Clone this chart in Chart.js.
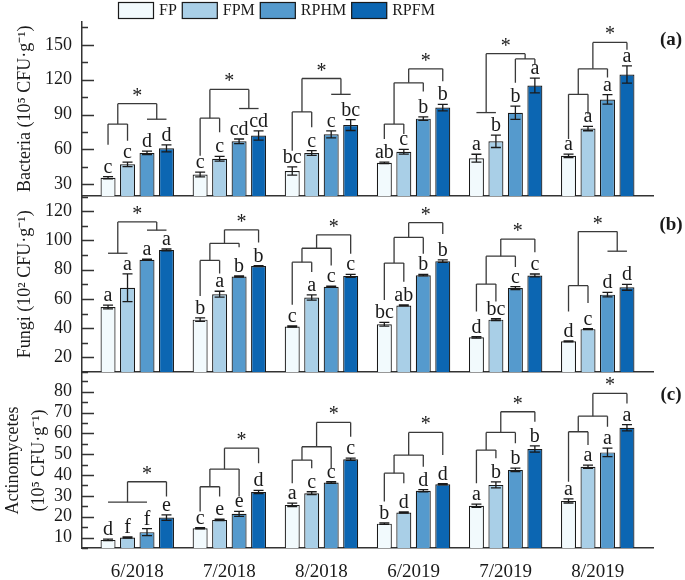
<!DOCTYPE html>
<html>
<head>
<meta charset="utf-8">
<script src="https://cdn.jsdelivr.net/npm/chart.js@4.4.1/dist/chart.umd.min.js"></script>
<style>
  html, body { margin: 0; padding: 0; background: #fff; }
  #wrap { position: relative; width: 685px; height: 580px; overflow: hidden; }
  .panel { position: absolute; left: 0; width: 685px; }
</style>
</head>
<body>
<div id="wrap">
  <div class="panel" style="top:0;height:205px"><canvas id="bacteria-chart"></canvas></div>
  <div class="panel" style="top:186px;height:195px"><canvas id="fungi-chart"></canvas></div>
  <div class="panel" style="top:362px;height:218px"><canvas id="actino-chart"></canvas></div>
</div>
<script>
const SERIF = "'Liberation Serif', 'Times New Roman', serif";

const groups = ['6/2018', '7/2018', '8/2018', '6/2019', '7/2019', '8/2019'];
const treatments = ['FP', 'FPM', 'RPHM', 'RPFM'];

// rows = treatments, columns = sampling dates
const bacteria = [
  [35.7, 38.5, 41.5, 48.5, 52.5, 54.5],
  [47.2, 52, 57, 58, 67, 78],
  [57, 67, 73, 86.5, 91.5, 103],
  [61, 72, 81, 96, 115, 124.5]
];
const bacteriaErr = [
  [1, 2, 3.5, 0.7, 3.4, 1.5],
  [2, 2, 2, 2, 5.3, 1.9],
  [1.5, 2, 3, 1.5, 5.7, 4.1],
  [3, 4, 4.7, 2.8, 6.4, 7.4]
];
const bacteriaSig = [
  ['c', 'c', 'bc', 'ab', 'a', 'a'],
  ['c', 'c', 'c', 'c', 'b', 'a'],
  ['d', 'cd', 'c', 'b', 'b', 'a'],
  ['d', 'cd', 'bc', 'b', 'a', 'a']
];

const fungi = [
  [54.4, 45.8, 41.1, 42.7, 33.7, 31],
  [67.6, 63.2, 60.9, 55.5, 45.8, 39.3],
  [86.8, 75.3, 68.3, 76.2, 67.4, 62.9],
  [93.5, 82.4, 75.7, 85.8, 76, 67.9]
];
const fungiErr = [
  [1.3, 1.2, 0.4, 1.3, 0.5, 0.3],
  [9.5, 2, 1.8, 0.3, 0.6, 0.3],
  [0.4, 0.4, 0.4, 0.5, 1, 1.5],
  [0.6, 0.4, 1, 0.8, 1, 2]
];
const fungiSig = [
  ['a', 'b', 'c', 'bc', 'd', 'd'],
  ['a', 'a', 'a', 'ab', 'bc', 'c'],
  ['a', 'b', 'c', 'b', 'c', 'd'],
  ['a', 'b', 'c', 'b', 'c', 'd']
];

const actino = [
  [8.9, 14.5, 25.7, 16.7, 25.3, 27.6],
  [10, 18.5, 31.3, 22, 35.3, 44],
  [12.6, 21.4, 36.4, 32.5, 42.5, 50.9],
  [19.6, 31.9, 47.6, 35.6, 52.5, 62.7]
];
const actinoErr = [
  [0.4, 0.3, 0.8, 0.4, 0.8, 1],
  [0.3, 0.3, 0.7, 0.3, 1.4, 0.8],
  [1.7, 1.2, 0.4, 0.5, 0.8, 2],
  [1.3, 0.8, 0.5, 0.3, 1.5, 1.5]
];
const actinoSig = [
  ['d', 'c', 'a', 'b', 'a', 'a'],
  ['f', 'e', 'c', 'd', 'b', 'a'],
  ['f', 'e', 'c', 'd', 'b', 'a'],
  ['e', 'd', 'c', 'd', 'b', 'a']
];

// cluster brackets per date: ['b'|'f', level, ...children], leaf = [treatment, leg end]
// 'b' = bracket with legs, 'f' = flat line
const bacteriaTree = [
  ['b', 99.4, ['b', 81.8, [0, 64], [1, 67.5]], ['f', 86, [2], [3]]],
  ['b', 111.6, ['b', 86.9, [0, 54.5], [1, 74.9]], ['f', 95.2, [2], [3]]],
  ['b', 121, ['b', 92.3, [0, 59], [1, 79.2]], ['f', 107.4, [2], [3]]],
  ['b', 129.3, ['b', 117.3, ['b', 81.8, [0, 69], [1, 73.2]], [2, 109.9]], [3, 118.7]],
  ['b', 142.3, ['f', 91.7, [0], [1]], ['b', 137.8, [2, 117.3], [3, 132.9]]],
  ['b', 152, ['b', 129.3, ['b', 107.4, [0, 69], [1, 90.3]], [2, 121.9]], [3, 145.7]]
];
const fungiTree = [
  ['b', 112.6, ['f', 91.2, [0], [1]], ['f', 107, [2], [3]]],
  ['b', 107.2, ['b', 98, ['b', 86.3, [0, 62], [1, 77.3]], [2, 95.3]], [3, 98.6]],
  ['b', 103.8, ['b', 94.6, ['b', 85.1, [0, 55.9], [1, 78.4]], [2, 82.9]], [3, 90.8]],
  ['b', 112.1, ['b', 102, ['b', 84.5, [0, 59.3], [1, 71.7]], [2, 90.8]], [3, 104.3]],
  ['b', 100.9, ['b', 89.2, ['b', 70.1, [0, 51.4], [1, 58.2]], [2, 81.8]], [3, 91.9]],
  ['b', 106, ['b', 69, [0, 51.4], [1, 57.1]], ['f', 92.6, [2], [3]]]
];
const actinoTree = [
  ['b', 36.8, ['f', 27, [0], [1], [2]], [3, 29.7]],
  ['b', 52.9, ['b', 42.9, ['b', 34.4, [0, 22.5], [1, 29.7]], [2, 29.7]], [3, 45.7]],
  ['b', 65.3, ['b', 53.6, ['b', 47.2, [0, 36.1], [1, 43.3]], [2, 43.3]], [3, 58.4]],
  ['b', 60.5, ['b', 49.6, ['b', 40.9, [0, 27.3], [1, 36.1]], [2, 44]], [3, 49.6]],
  ['b', 70.4, ['b', 60.5, ['b', 52, [0, 36.1], [1, 48.1]], [2, 55.3]], [3, 65.6]],
  ['b', 79.2, ['b', 68.3, ['b', 60.8, [0, 36.8], [1, 54.4]], [2, 63.2]], [3, 74.4]]
];

const bacteriaTicks = [30, 60, 90, 120, 150];
const fungiTicks = [20, 40, 60, 80, 100, 120];
const actinoTicks = [10, 20, 30, 40, 50, 60, 70, 80];

const fills = ['#f2fafd', '#a9cfe7', '#559acd', '#0c66b2'];
const INK = '#1a1a1a';

Chart.defaults.font.family = SERIF;
Chart.defaults.color = INK;

const marks = {
  id: 'marks',
  afterDatasetsDraw(chart, args, o) {
    const { ctx, chartArea: area } = chart;
    const ys = chart.scales.y;
    const px = v => ys.getPixelForValue(v);
    const barX = (s, g) => chart.getDatasetMeta(s).data[g].x;
    ctx.save();

    // inward tick marks, major + minor
    const half = (o.ticks[1] - o.ticks[0]) / 2;
    ctx.strokeStyle = '#333';
    ctx.lineWidth = 1.3;
    ctx.beginPath();
    let v = o.ticks[0] - half * Math.floor((o.ticks[0] - ys.min) / half);
    for (; v <= ys.max + 1e-9; v += half) {
      const len = o.ticks.includes(v) ? 12 : 6;
      const y = Math.round(px(v)) + 0.5;
      ctx.moveTo(area.left, y);
      ctx.lineTo(area.left + len, y);
    }
    ctx.stroke();

    // error bars + letters
    ctx.strokeStyle = INK;
    ctx.fillStyle = INK;
    ctx.lineWidth = 1.3;
    ctx.font = '20px ' + SERIF;
    ctx.textAlign = 'center';
    ctx.textBaseline = 'alphabetic';
    o.means.forEach((row, s) => row.forEach((m, g) => {
      const x = barX(s, g), e = o.errs[s][g];
      const t = px(m + e), b = px(m - e);
      ctx.beginPath();
      ctx.moveTo(x, t); ctx.lineTo(x, b);
      ctx.moveTo(x - 5, t); ctx.lineTo(x + 5, t);
      ctx.moveTo(x - 5, b); ctx.lineTo(x + 5, b);
      ctx.stroke();
      ctx.fillText(o.sig[s][g], x, t - 4);
    }));

    // significance brackets
    ctx.strokeStyle = '#3a3a3a';
    ctx.lineWidth = 1.3;
    const place = (node, g) => {
      if (typeof node[0] === 'number') {
        return { x: barX(node[0], g), y: node.length > 1 ? px(node[1]) : 0 };
      }
      const [type, level, ...kids] = node;
      const pts = kids.map(k => place(k, g));
      const ny = px(level);
      const x0 = pts[0].x, x1 = pts[pts.length - 1].x;
      ctx.beginPath();
      ctx.moveTo(x0, ny); ctx.lineTo(x1, ny);
      if (type === 'b') pts.forEach(p => { ctx.moveTo(p.x, ny); ctx.lineTo(p.x, p.y); });
      ctx.stroke();
      return { x: (x0 + x1) / 2, y: ny };
    };
    o.tree.forEach((root, g) => {
      const top = place(root, g);
      ctx.fillText('*', top.x, top.y - 2);
    });

    // panel tag
    ctx.font = 'bold 19px ' + SERIF;
    ctx.textBaseline = 'middle';
    ctx.fillText(o.tag, area.right + 18, area.top + o.tagDy);

    // legend
    if (o.legend) {
      ctx.font = '16px ' + SERIF;
      ctx.textAlign = 'left';
      ctx.textBaseline = 'middle';
      ctx.lineWidth = 1.2;
      ctx.strokeStyle = INK;
      let lx = 118;
      chart.data.datasets.forEach(ds => {
        ctx.fillStyle = ds.backgroundColor;
        ctx.fillRect(lx, 2, 36, 17);
        ctx.strokeRect(lx + 0.5, 2.5, 35, 16);
        ctx.fillStyle = INK;
        ctx.fillText(ds.label, lx + 41, 11);
        lx += 41 + ctx.measureText(ds.label).width + 5;
      });
    }
    ctx.restore();
  }
};

function bars(means) {
  return treatments.map((t, s) => ({
    label: t,
    data: means[s].map((m, g) => ({ x: g, y: m })),
    backgroundColor: fills[s],
    borderColor: INK,
    borderWidth: 1.2,
    categoryPercentage: 0.846,
    barPercentage: 0.77
  }));
}

function panel(id, p) {
  return new Chart(document.getElementById(id), {
    type: 'bar',
    data: { datasets: bars(p.means) },
    options: {
      responsive: true,
      maintainAspectRatio: false,
      animation: false,
      layout: { padding: { left: 0, right: 32, top: p.padTop, bottom: p.padBottom } },
      plugins: {
        legend: { display: false },
        tooltip: { enabled: false },
        marks: {
          means: p.means, errs: p.errs, sig: p.sig, tree: p.tree,
          ticks: p.ticks, tag: p.tag, tagDy: p.tagDy, legend: !!p.legend
        }
      },
      scales: {
        x: {
          type: 'linear',
          min: -0.6,
          max: 5.6,
          offset: false,
          afterBuildTicks: s => { s.ticks = groups.map((g, i) => ({ value: i })); },
          afterFit: s => { s.height = p.xHeight; },
          grid: { display: false, drawTicks: false },
          border: { display: true, color: '#333', width: 1.5 },
          ticks: {
            display: p.xLabels,
            autoSkip: false,
            maxRotation: 0,
            padding: 13,
            color: INK,
            font: { family: SERIF, size: 19 },
            callback: v => groups[v]
          }
        },
        y: {
          type: 'linear',
          min: p.min,
          max: p.max,
          afterBuildTicks: s => { s.ticks = p.ticks.map(v => ({ value: v })); },
          afterFit: s => { s.width = 82; },
          // invisible tick marks only push the labels off the axis
          grid: { display: false, drawTicks: true, tickLength: 10, tickColor: 'rgba(0,0,0,0)' },
          border: { display: true, color: '#333', width: 1.5 },
          ticks: {
            padding: 0,
            autoSkip: false,
            color: INK,
            font: { family: SERIF, size: 18, lineHeight: 1 }
          },
          title: {
            display: true,
            text: p.title,
            color: INK,
            font: { family: SERIF, size: 18, lineHeight: 1.45 },
            padding: { top: p.titlePad, bottom: 0 }
          }
        }
      }
    },
    plugins: [marks]
  });
}

panel('bacteria-chart', {
  means: bacteria, errs: bacteriaErr, sig: bacteriaSig, tree: bacteriaTree,
  min: 20, max: 170, ticks: bacteriaTicks,
  title: 'Bacteria (10\u2075 CFU\u00b7g\u207b\u00b9)', titlePad: 12,
  padTop: 21.5, padBottom: 8.5, xHeight: 0, xLabels: false,
  tag: '(a)', tagDy: 18.5, legend: true
});

panel('fungi-chart', {
  means: fungi, errs: fungiErr, sig: fungiSig, tree: fungiTree,
  min: 10, max: 130, ticks: fungiTicks,
  title: 'Fungi (10\u00b2 CFU\u00b7g\u207b\u00b9)', titlePad: 12,
  padTop: 10.5, padBottom: 8, xHeight: 0, xLabels: false,
  tag: '(b)', tagDy: 28.5
});

panel('actino-chart', {
  means: actino, errs: actinoErr, sig: actinoSig, tree: actinoTree,
  min: 5, max: 89, ticks: actinoTicks,
  title: ['Actinomycetes', '(10\u2075 CFU\u00b7g\u207b\u00b9)'], titlePad: 0,
  padTop: 11, padBottom: 0, xHeight: 32, xLabels: true,
  tag: '(c)', tagDy: 22
});
</script>
</body>
</html>
